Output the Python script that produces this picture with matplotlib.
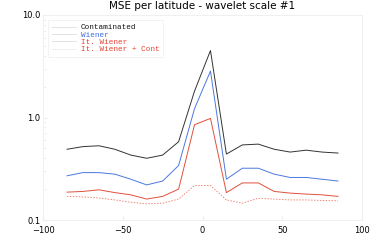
import numpy as np
import matplotlib
matplotlib.use("Agg")
import matplotlib.pyplot as plt

# --- MSE per latitude, wavelet scale #1 ---
lat = [-85, -75, -65, -55, -45, -35, -25, -15, -5, 5,
       15, 25, 35, 45, 55, 65, 75, 85]
mse_cont = [0.49, 0.52, 0.53, 0.49, 0.43, 0.40, 0.43, 0.58, 1.81, 4.5,
            0.44, 0.54, 0.55, 0.49, 0.46, 0.48, 0.46, 0.45]
mse_wiener = [0.27, 0.29, 0.29, 0.28, 0.25, 0.22, 0.24, 0.34, 1.22, 2.84,
              0.25, 0.32, 0.32, 0.28, 0.26, 0.26, 0.25, 0.24]
mse_itw = [0.187, 0.19, 0.197, 0.185, 0.176, 0.16, 0.17, 0.20, 0.85, 0.98,
           0.185, 0.23, 0.23, 0.19, 0.183, 0.179, 0.176, 0.17]
mse_itw_cont = [0.17, 0.168, 0.164, 0.157, 0.149, 0.144, 0.146, 0.16, 0.217, 0.217,
                0.157, 0.146, 0.163, 0.16, 0.157, 0.157, 0.155, 0.154]

labels = ['Contaminated', 'Wiener', 'It. Wiener', 'It. Wiener + Cont']
line_colors = ['#333333', '#4a78e0', '#e0503c', '#f08878']
text_colors = ['#111111', '#3a6ae8', '#e84030', '#e84030']

fig = plt.figure(figsize=(3.75, 2.5), dpi=100)
ax = fig.add_axes([0.115, 0.12, 0.85, 0.82])

ax.plot(lat, mse_cont, color=line_colors[0], lw=0.7)
ax.plot(lat, mse_wiener, color=line_colors[1], lw=0.7)
ax.plot(lat, mse_itw, color=line_colors[2], lw=0.7)
ax.plot(lat, mse_itw_cont, color=line_colors[3], lw=0.7, ls=(0, (1.5, 1.5)))

ax.set_yscale('log')
ax.set_xlim(-100, 100)
ax.set_ylim(0.1, 10)
ax.set_xticks([-100, -50, 0, 50, 100])
ax.set_yticks([0.1, 1.0, 10.0])
ax.set_yticklabels(['0.1', '1.0', '10.0'])
ax.tick_params(labelsize=6, length=3, color='#eeeeee', direction='in', pad=2)
ax.tick_params(axis='x', pad=4)
ax.tick_params(which='minor', length=2, color='#eeeeee', direction='in')
for s in ax.spines.values():
    s.set_color('#eeeeee')
    s.set_linewidth(0.6)

ax.set_title('MSE per latitude - wavelet scale #1', fontsize=7.5, pad=4)

# legend: pale line samples, coloured monospace text
handles = [plt.Line2D([], [], color='#dddddd', lw=0.6),
           plt.Line2D([], [], color='#dddddd', lw=0.6),
           plt.Line2D([], [], color='#dddddd', lw=0.6),
           plt.Line2D([], [], color='#dddddd', lw=0.6, ls=(0, (1.5, 1.5)))]
leg = ax.legend(handles, labels, loc='upper left',
                prop={'family': 'Liberation Mono', 'size': 5.5},
                frameon=True, fancybox=False, borderpad=0.5, labelspacing=0.0,
                handlelength=3.2, handletextpad=0.6, borderaxespad=0,
                bbox_to_anchor=(0.015, 0.975))
leg.get_frame().set_edgecolor('#eeeeee')
leg.get_frame().set_linewidth(0.6)
for t, c in zip(leg.get_texts(), text_colors):
    t.set_color(c)

fig.savefig('out.png', dpi=100)
